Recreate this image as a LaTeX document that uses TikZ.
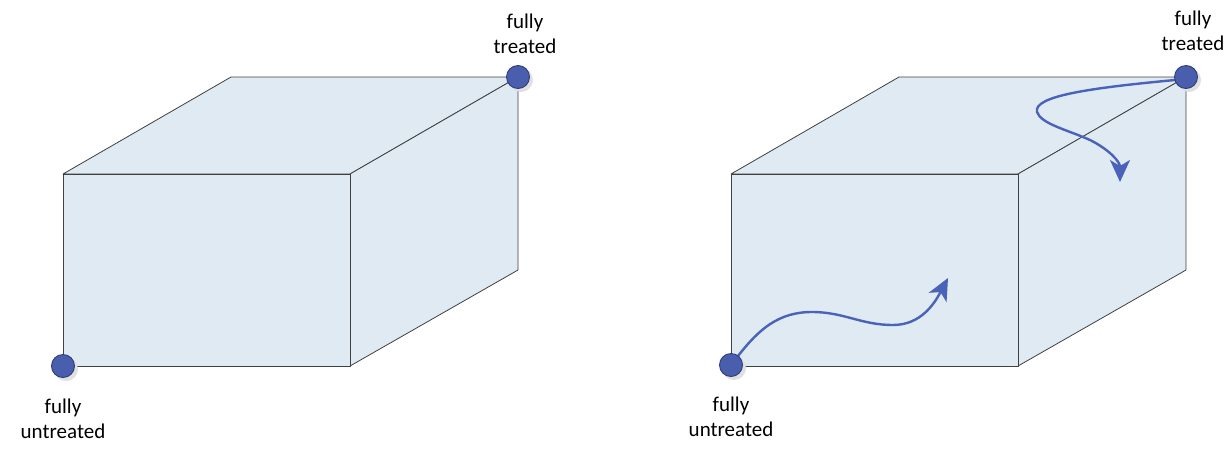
\documentclass[tikz,border=0pt]{standalone}
\usepackage{fontspec}
\setmainfont{Carlito}
\usetikzlibrary{arrows.meta}
\definecolor{facefill}{HTML}{DFEAF3}
\definecolor{edgecol}{HTML}{404040}
\definecolor{dotfill}{HTML}{4A5EAE}
\definecolor{dotline}{HTML}{2E3C78}
\definecolor{arrowcol}{HTML}{4A62B8}
\tikzset{
  face/.style={fill=facefill,draw=edgecol,line width=0.8pt,line join=round},
  corner/.style={circle,fill=dotfill,draw=dotline,line width=0.9pt,minimum size=23pt,inner sep=0pt},
  cornershadow/.style={circle,fill=black!12,minimum size=24pt,inner sep=0pt},
  lbl/.style={align=center,font=\fontsize{21}{25}\selectfont,text=black},
  flow/.style={draw=arrowcol,line width=2.4pt,line cap=round,-{Stealth[length=22pt,width=20pt,inset=6pt]}}
}
\begin{document}
\begin{tikzpicture}[x=1pt,y=-1pt]
\useasboundingbox (0,0) rectangle (1229,448);
% ---- left cube ----
\path[face] (63,174) -- (231,77) -- (518,77) -- (350,174) -- cycle;
\path[face] (350,174) -- (518,77) -- (518,270) -- (350,366) -- cycle;
\path[face] (63,174) rectangle (350,366);
\node[cornershadow] at (66,369) {};
\node[cornershadow] at (521,80) {};
\node[corner] (lu) at (63,366) {};
\node[corner] (lt) at (518,77) {};
\node[lbl] (lut) at (63,419) {fully\\untreated};
\node[lbl] (ltt) at (525,34) {fully\\treated};
% ---- right cube ----
\path[face] (731,174) -- (899,77) -- (1186,77) -- (1018,174) -- cycle;
\path[face] (1018,174) -- (1186,77) -- (1186,270) -- (1018,366) -- cycle;
\path[face] (731,174) rectangle (1018,366);
\node[cornershadow] at (734,368) {};
\node[cornershadow] at (1189,80) {};
\coordinate (a1) at (948,278);
\coordinate (a2) at (1120,182);
\draw[flow] (738,356) to[out=52,in=180] (812,312) to[out=0,in=180] (893,325) to[out=0,in=-118] (a1);
\draw[flow] (1175,80) .. controls (1090,88) and (1033,96) .. (1037,112)
  .. controls (1041,124) and (1068,130) .. (1090,140)
  .. controls (1110,150) and (1120,162) .. (a2);
\node[corner] (ru) at (731,365) {};
\node[corner] (rt) at (1186,77) {};
\node[lbl] (rut) at (731,417) {fully\\untreated};
\node[lbl] (rtt) at (1193,31) {fully\\treated};
\end{tikzpicture}
\end{document}
